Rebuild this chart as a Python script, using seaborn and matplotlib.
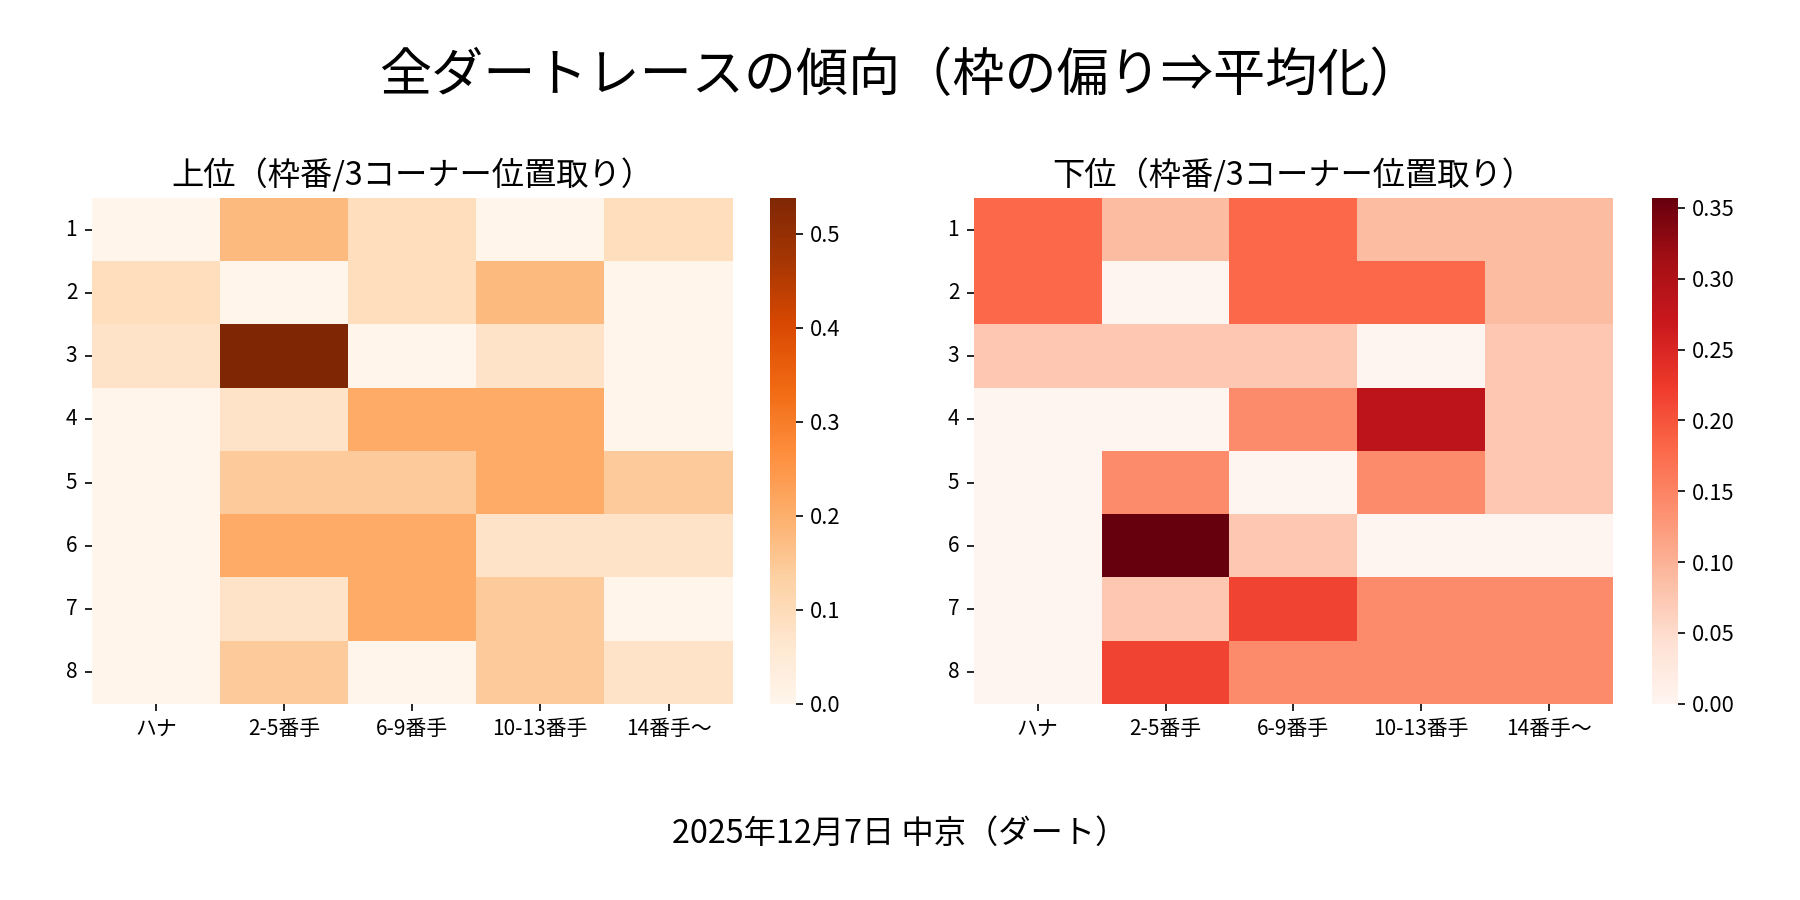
import numpy as np
import pandas as pd
import matplotlib
matplotlib.use("Agg")
import matplotlib.pyplot as plt
import seaborn as sns

plt.rcParams['font.family'] = ['Noto Sans CJK JP', 'DejaVu Sans']

rows = ["1", "2", "3", "4", "5", "6", "7", "8"]
cols = ["ハナ", "2-5番手", "6-9番手", "10-13番手", "14番手〜"]

top_values = [
    [0.000, 0.178, 0.094, 0.000, 0.094],
    [0.094, 0.000, 0.094, 0.178, 0.000],
    [0.077, 0.538, 0.000, 0.077, 0.000],
    [0.000, 0.077, 0.210, 0.210, 0.000],
    [0.000, 0.145, 0.145, 0.210, 0.145],
    [0.000, 0.210, 0.210, 0.077, 0.077],
    [0.000, 0.077, 0.210, 0.145, 0.000],
    [0.000, 0.145, 0.000, 0.145, 0.077],
]

bottom_values = [
    [0.179, 0.089, 0.179, 0.089, 0.089],
    [0.179, 0.000, 0.179, 0.179, 0.089],
    [0.074, 0.074, 0.074, 0.000, 0.074],
    [0.000, 0.000, 0.141, 0.285, 0.074],
    [0.000, 0.141, 0.000, 0.141, 0.074],
    [0.000, 0.357, 0.074, 0.000, 0.000],
    [0.000, 0.074, 0.216, 0.141, 0.141],
    [0.000, 0.216, 0.141, 0.141, 0.141],
]

title = "全ダートレースの傾向（枠の偏り⇒平均化）"
left_title = "上位（枠番/3コーナー位置取り）"
right_title = "下位（枠番/3コーナー位置取り）"
footer = "2025年12月7日 中京（ダート）"

df_top = pd.DataFrame(top_values, index=rows, columns=cols)
df_bot = pd.DataFrame(bottom_values, index=rows, columns=cols)

fig = plt.figure(figsize=(12, 6), dpi=150)
ax1 = fig.add_axes([0.051, 0.218, 0.356, 0.562])
cax1 = fig.add_axes([0.428, 0.218, 0.014, 0.562])
ax2 = fig.add_axes([0.541, 0.218, 0.355, 0.562])
cax2 = fig.add_axes([0.918, 0.218, 0.014, 0.562])

sns.heatmap(df_top, cmap="Oranges", ax=ax1, cbar_ax=cax1)
sns.heatmap(df_bot, cmap="Reds", ax=ax2, cbar_ax=cax2)

for ax, t in [(ax1, left_title), (ax2, right_title)]:
    ax.set_title(t, fontsize=15.5, pad=6)
    ax.tick_params(axis='both', labelsize=10)
    ax.set_yticklabels(ax.get_yticklabels(), rotation=0)
    ax.set_xticklabels(ax.get_xticklabels(), rotation=0)
for cax in (cax1, cax2):
    cax.tick_params(labelsize=10.5)

fig.suptitle(title, fontsize=25, y=0.945)
fig.text(0.5, 0.073, footer, ha='center', va='center', fontsize=15.5)

fig.savefig("out.png", dpi=150)
